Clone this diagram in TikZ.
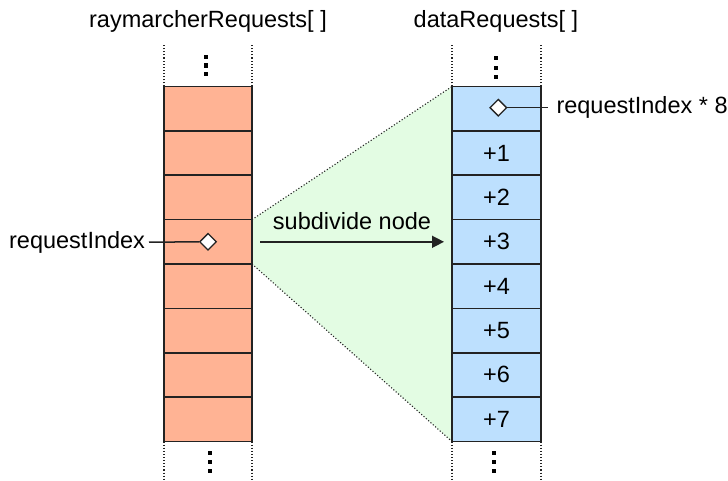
\documentclass[tikz,border=0pt]{standalone}
\usepackage{fontspec}
\setmainfont{Liberation Sans}
\usetikzlibrary{arrows.meta,shapes.geometric}

\definecolor{rayfill}{RGB}{255,179,148}
\definecolor{datafill}{RGB}{189,224,254}
\definecolor{spanfill}{RGB}{227,252,227}
\definecolor{edge}{RGB}{35,35,35}

\tikzset{
  cell/.style={draw=edge, line width=1.6pt, minimum height=44.375pt, inner sep=0pt, outer sep=0pt},
  raycell/.style={cell, fill=rayfill, minimum width=88pt},
  datacell/.style={cell, fill=datafill, minimum width=89pt},
  lbl/.style={font=\fontsize{23.5}{28}\selectfont, inner sep=0pt, text=black},
  marker/.style={diamond, draw=edge, fill=white, line width=1.3pt, minimum size=17pt, inner sep=0pt},
  guide/.style={dotted, line width=1.1pt, draw=edge},
  leader/.style={draw=edge, line width=1.5pt},
  ellip/.style={fill=black, minimum size=4.3pt, inner sep=0pt, rectangle},
}

\begin{document}
\begin{tikzpicture}[x=1pt,y=-1pt]
\useasboundingbox (0,0) rectangle (728,481);

% column of ray marcher requests
\foreach \i in {1,...,8}
  \node[raycell] (L\i) at (208, {86.5+44.375*(\i-0.5)}) {};

% column of data requests
\foreach \i in {0,...,7}
  \node[datacell] (R\i) at (496.5, {86.5+44.375*(\i+0.5)}) {};

% fan-out area from one request to its eight data slots
\fill[spanfill] (L4.north east) -- (R0.north west) -- (R7.south west) -- (L4.south east) -- cycle;
\draw[guide] (L4.north east) -- (R0.north west);
\draw[guide] (L4.south east) -- (R7.south west);

% redraw the cells above the fill
\foreach \i in {1,...,8}
  \node[raycell] at (L\i) {};
\foreach \i in {0,...,7}
  \node[datacell] at (R\i) {};
\foreach \i in {1,...,7}
  \node[lbl, anchor=base] at ([yshift=-8pt]R\i.center) {+\i};

% dotted continuation lines above and below both arrays
\draw[guide] (L1.north west) -- ++(0,-42.5);
\draw[guide] (L1.north east) -- ++(0,-42.5);
\draw[guide] (L8.south west) -- ++(0,40);
\draw[guide] (L8.south east) -- ++(0,40);
\draw[guide] (R0.north west) -- ++(0,-42.5);
\draw[guide] (R0.north east) -- ++(0,-42.5);
\draw[guide] (R7.south west) -- ++(0,40);
\draw[guide] (R7.south east) -- ++(0,40);

% vertical ellipses
\foreach \y in {56.7,65.5,74.3}
  \node[ellip] at (206,\y) {};
\foreach \y in {58.3,67.7,77}
  \node[ellip] at (496.3,\y) {};
\foreach \y in {453.3,462.3,471.3}
  \node[ellip] at (210.3,\y) {};
\foreach \y in {452.7,461.7,470.7}
  \node[ellip] at (494,\y) {};

% array headings
\node[lbl, anchor=base] (hray) at (208,28) {raymarcherRequests[ ]};
\node[lbl, anchor=base] (hdata) at (496,28) {dataRequests[ ]};

% index markers
\node[marker] (mL) at (L4.center) {};
\node[marker] (mR) at (498.3,107.7) {};

\node[lbl, anchor=east, outer xsep=4pt] (tL) at (149,242.2) {\vphantom{I}requestIndex};
\draw[leader] (tL.east) -- (mL.west);

\node[lbl, anchor=west, outer xsep=8.5pt] (tR) at (548,107.7) {\vphantom{I}requestIndex * 8};
\draw[leader] (mR.east) -- (tR.west);

% subdivision arrow
\draw[leader, -{Triangle[length=12pt,width=12pt]}] ([xshift=8pt]L4.east) -- ([xshift=-8pt]R3.west)
  node[lbl, midway, anchor=base, yshift=12.5pt] (tS) {subdivide node};
\end{tikzpicture}
\end{document}
